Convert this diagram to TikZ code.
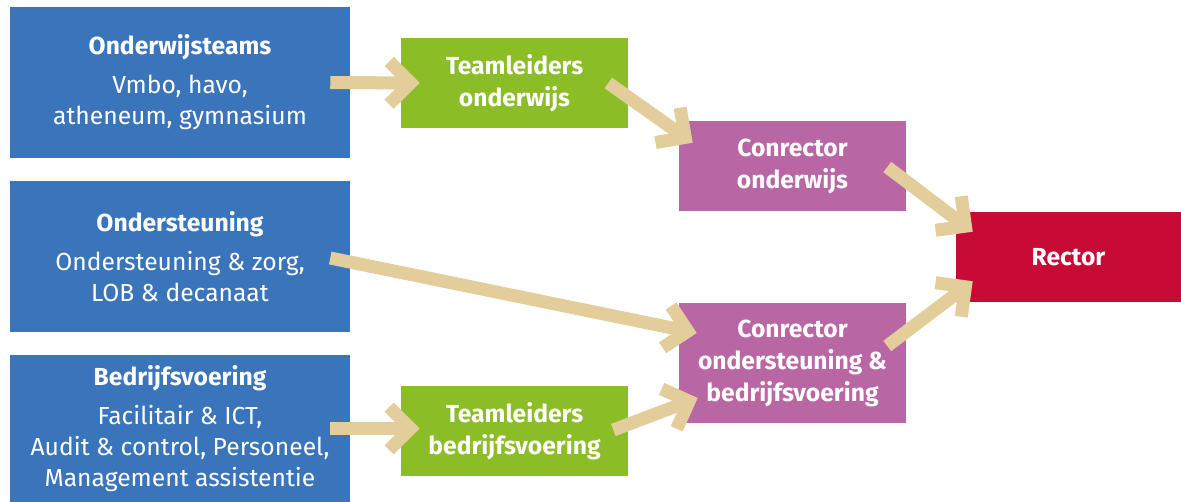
\documentclass[tikz,border=0pt]{standalone}
\usepackage{fontspec}
\setmainfont{Fira Sans}
\usepackage{tikz}
\usetikzlibrary{arrows.meta,calc}
\definecolor{blauw}{HTML}{3A74BA}
\definecolor{groen}{HTML}{8BBD27}
\definecolor{paars}{HTML}{B966A4}
\definecolor{rood}{HTML}{C80A37}
\definecolor{zand}{HTML}{E3CD9B}

\begin{document}
\begin{tikzpicture}[x=0.75pt, y=-0.75pt,
    afdeling/.style={rectangle, fill=blauw, text=white, align=center, minimum width=255pt, minimum height=113.25pt, inner sep=0pt, font=\fontsize{18.5}{23.25}\selectfont},
    leiding/.style={rectangle, fill=#1, text=white, align=center, minimum width=170.25pt, minimum height=67.5pt, inner sep=0pt, font=\bfseries\fontsize{18.5}{24}\selectfont},
    pijl/.style={draw=zand, line width=9.75pt, -{Straight Barb[length=16pt, width=32pt]}}]
    \useasboundingbox (0,0) rectangle (1181,502);

    % Teams
    \node[afdeling] (ond) at (180,82.5) {\textbf{Onderwijsteams}\\[6pt]Vmbo, havo,\\atheneum, gymnasium};
    \node[afdeling] (ost) at (180,256.5) {\textbf{Ondersteuning}\\[6pt]Ondersteuning \& zorg,\\LOB \& decanaat};
    \node[afdeling, minimum height=110.25pt] (bed) at (180,428.5) {\textbf{Bedrijfsvoering}\\[6pt]Facilitair \& ICT,\\Audit \& control, Personeel,\\Management assistentie};

    % Teamleiders
    \node[leiding=groen] (tlo) at (514.5,83) {Teamleiders\\onderwijs};
    \node[leiding=groen] (tlb) at (514.5,431) {Teamleiders\\bedrijfsvoering};

    % Conrectoren
    \node[leiding=paars] (cro) at (792.5,166) {Conrector\\onderwijs};
    \node[leiding=paars, minimum height=90pt] (crob) at (792.5,363) {Conrector\\ondersteuning \&\\bedrijfsvoering};

    % Rector
    \node[leiding=rood, minimum width=168.75pt] (rector) at (1068.5,257) {Rector};

    % Arrows
    \draw[pijl] ($(ond.east)+(-20,0)$) -- ($(tlo.west)+(19,0)$);
    \draw[pijl] ($(tlo.east)+(-20,0)$) -- ($(cro.north west)+(14,22)$);
    \draw[pijl] ($(cro.east)+(-19,1)$) -- ($(rector.north west)+(17,20)$);
    \draw[pijl] ($(ost.east)+(-20,1.5)$) -- ($(crob.west)+(18,-30)$);
    \draw[pijl] ($(tlb.east)+(-15,-1)$) -- ($(crob.west)+(19,35)$);
    \draw[pijl] ($(crob.east)+(-19,-17)$) -- ($(rector.south west)+(17,-21)$);
    \draw[pijl] ($(bed.east)+(-20,0)$) -- ($(tlb.west)+(19,-2.5)$);
\end{tikzpicture}
\end{document}
